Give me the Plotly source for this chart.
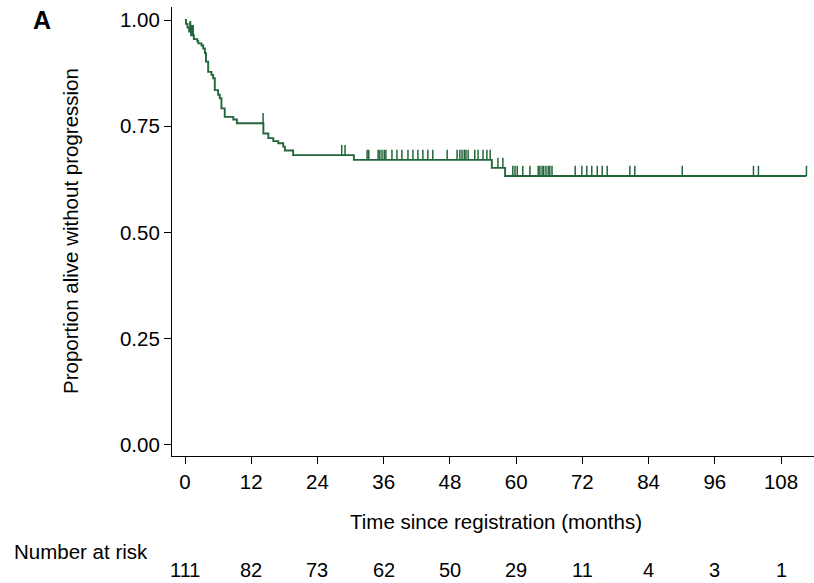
import plotly.graph_objects as go

# Kaplan-Meier step curve (time in months, proportion after the step)
step_times = [0.0, 0.18, 0.45, 0.75, 1.1, 1.6, 2.23, 2.41, 3.0, 3.3, 3.6, 3.8, 4.2, 4.8, 5.1,
              5.4, 6.0, 6.3, 6.6, 7.2, 8.75, 9.4, 14.2, 15.1, 16.0, 16.9, 17.8, 18.1, 19.6,
              30.6, 55.6, 58.0]
step_surv = [1.000, 0.991, 0.982, 0.973, 0.964, 0.955, 0.950, 0.945, 0.940, 0.933, 0.922, 0.902,
             0.878, 0.871, 0.863, 0.835, 0.824, 0.816, 0.792, 0.772, 0.766, 0.757, 0.733, 0.722,
             0.715, 0.710, 0.702, 0.693, 0.682, 0.671, 0.652, 0.633]
end_time = 112.6

# censoring times (months)
censor_times = [0.9, 1.0, 1.2, 1.35, 1.5, 14.15, 28.4, 29.0,
                33.0, 33.3, 35.0, 35.3, 35.7, 36.1, 36.4, 37.5, 38.4, 39.3, 40.4, 41.3, 42.2,
                43.1, 44.0, 44.9, 47.5, 49.3, 49.8, 50.2, 50.6, 50.9, 51.3, 52.5, 53.1, 54.0,
                54.7, 55.3, 56.7, 57.6, 59.4, 59.8, 60.2, 61.2, 62.5, 64.0, 64.3, 64.7, 65.0,
                65.4, 65.8, 66.1, 66.5, 70.7, 71.9, 72.8, 73.7, 74.7, 75.6, 76.5, 80.6, 81.5,
                90.1, 103.0, 103.9, 112.6]

x_ticks = [0, 12, 24, 36, 48, 60, 72, 84, 96, 108]
y_ticks = [0.00, 0.25, 0.50, 0.75, 1.00]
y_tick_labels = ["0.00", "0.25", "0.50", "0.75", "1.00"]
at_risk = [111, 82, 73, 62, 50, 29, 11, 4, 3, 1]

GREEN = "#22663a"
FONT = "Liberation Sans, Arial, sans-serif"
FS = 20.5
TICK_H = 0.024


def surv_at(t):
    s = step_surv[0]
    for tt, ss in zip(step_times, step_surv):
        if tt <= t:
            s = ss
    return s


fig = go.Figure()
fig.add_trace(go.Scatter(
    x=step_times + [end_time], y=step_surv + [step_surv[-1]],
    mode="lines", line=dict(color=GREEN, width=1.9, shape="hv"),
    showlegend=False, hoverinfo="skip"))

cx, cy = [], []
for t in censor_times:
    s = surv_at(t)
    cx += [t, t, None]
    cy += [s, s + TICK_H, None]
fig.add_trace(go.Scatter(x=cx, y=cy, mode="lines",
                         line=dict(color=GREEN, width=1.5),
                         showlegend=False, hoverinfo="skip"))

ann = []
ann.append(dict(text="<b>A</b>", x=-0.2025, y=0.971, xref="paper", yref="paper",
                showarrow=False, font=dict(family=FONT, size=25, color="black"),
                xanchor="center", yanchor="middle"))
ann.append(dict(text="Proportion alive without progression", x=-0.159, y=0.501,
                xref="paper", yref="paper", textangle=-90, showarrow=False,
                font=dict(family=FONT, size=FS, color="black"),
                xanchor="center", yanchor="middle"))
ann.append(dict(text="Time since registration (months)", x=0.5047, y=-0.1448,
                xref="paper", yref="paper", showarrow=False,
                font=dict(family=FONT, size=FS, color="black"),
                xanchor="center", yanchor="middle"))
ann.append(dict(text="Number at risk", x=-0.2492, y=-0.2116, xref="paper", yref="paper",
                showarrow=False, font=dict(family=FONT, size=FS, color="black"),
                xanchor="left", yanchor="middle"))
for t, n in zip(x_ticks, at_risk):
    ann.append(dict(text=str(n), x=t, y=-0.2545, xref="x", yref="paper", showarrow=False,
                    font=dict(family=FONT, size=20, color="black"), borderpad=0,
                    xanchor="center", yanchor="middle"))

fig.update_layout(
    width=814, height=583,
    margin=dict(l=172, r=0, t=7, b=127),
    paper_bgcolor="white", plot_bgcolor="white",
    font=dict(family=FONT, size=FS, color="black"),
    annotations=ann,
    xaxis=dict(range=[-2.355, 113.97], tickvals=x_ticks, ticktext=[str(v) for v in x_ticks],
               showline=True, linecolor="black", linewidth=1.2, ticks="outside", ticklen=7,
               tickcolor="black", tickwidth=1.2, showgrid=False, zeroline=False,
               tickfont=dict(family=FONT, size=FS, color="black")),
    yaxis=dict(range=[-0.0259, 1.0306], tickvals=y_ticks, ticktext=y_tick_labels,
               showline=True, linecolor="black", linewidth=1.2, ticks="outside", ticklen=7,
               tickcolor="black", tickwidth=1.2, showgrid=False, zeroline=False,
               tickfont=dict(family=FONT, size=FS, color="black")),
)

fig.write_html("out.html")
